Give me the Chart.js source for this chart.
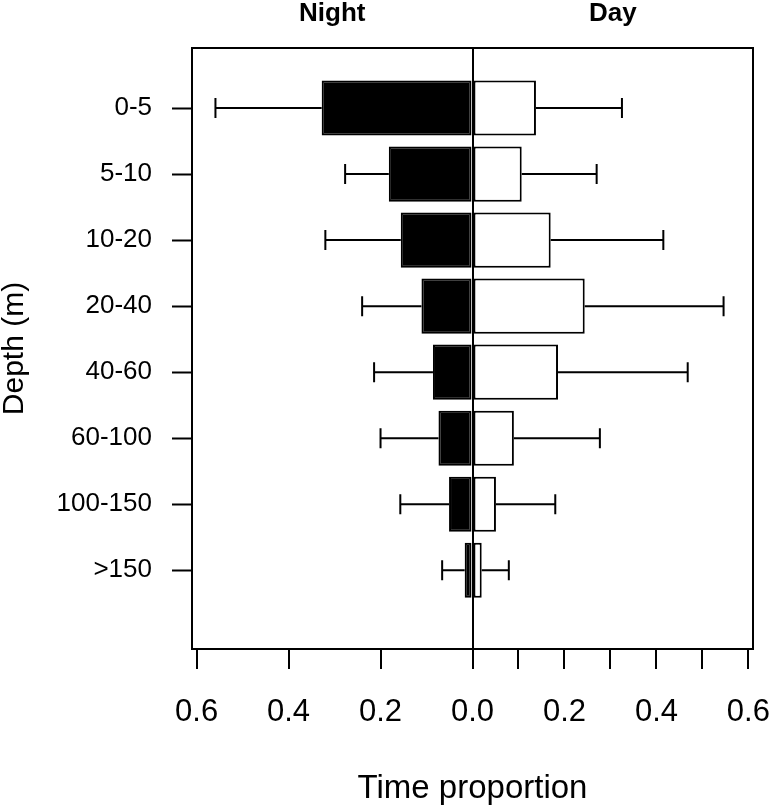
<!DOCTYPE html>
<html>
<head>
<meta charset="utf-8">
<script src="https://cdn.jsdelivr.net/npm/chart.js@4.4.1/dist/chart.umd.min.js"></script>
<style>
  html, body { margin: 0; padding: 0; background: #ffffff; }
  #wrap { width: 774px; height: 810px; position: relative; }
</style>
</head>
<body>
<div id="wrap"><canvas id="c"></canvas></div>
<script>
// ---- data ----
const categories = ['0-5', '5-10', '10-20', '20-40', '40-60', '60-100', '100-150', '>150'];
const nightMean  = [0.328, 0.182, 0.156, 0.111, 0.086, 0.074, 0.051, 0.017];
const nightUpper = [0.559, 0.277, 0.320, 0.240, 0.214, 0.200, 0.157, 0.066];
const dayMean    = [0.138, 0.107, 0.170, 0.244, 0.186, 0.090, 0.051, 0.020];
const dayUpper   = [0.325, 0.270, 0.415, 0.546, 0.468, 0.277, 0.180, 0.079];
const xTickValues = [-0.6, -0.4, -0.2, 0, 0.1, 0.2, 0.3, 0.4, 0.5, 0.6];
const panelTitles = ['Night', 'Day'];

const FONT = "'Liberation Sans', Arial, Helvetica, sans-serif";

const nightData = categories.map((c, i) => ({ x: -nightMean[i], y: i + 1 }));
const dayData   = categories.map((c, i) => ({ x: dayMean[i], y: i + 1 }));

const frameAndErrorBars = {
  id: 'frameAndErrorBars',
  afterDatasetsDraw(chart) {
    const { ctx, chartArea: a, scales: { x, y } } = chart;
    ctx.save();
    ctx.strokeStyle = '#000';
    ctx.lineWidth = 2;
    ctx.lineCap = 'butt';
    const cap = 10;
    const whisker = (from, to, row) => {
      const py = y.getPixelForValue(row);
      const p0 = x.getPixelForValue(from);
      const p1 = x.getPixelForValue(to);
      ctx.beginPath();
      ctx.moveTo(p0, py); ctx.lineTo(p1, py);
      ctx.moveTo(p1, py - cap); ctx.lineTo(p1, py + cap);
      ctx.stroke();
    };
    categories.forEach((c, i) => {
      whisker(-nightMean[i], -nightUpper[i], i + 1);
      whisker(dayMean[i], dayUpper[i], i + 1);
    });
    // plot frame
    ctx.strokeRect(a.left, a.top, a.right - a.left, a.bottom - a.top);
    // panel titles
    ctx.fillStyle = '#000';
    ctx.font = 'bold 26px ' + FONT;
    ctx.textAlign = 'center';
    ctx.textBaseline = 'alphabetic';
    const leftMid = (x.getPixelForValue(x.min) + x.getPixelForValue(0)) / 2;
    const rightMid = (x.getPixelForValue(0) + x.getPixelForValue(x.max)) / 2;
    ctx.fillText(panelTitles[0], leftMid, 21);
    ctx.fillText(panelTitles[1], rightMid, 21);
    ctx.restore();
  }
};

new Chart(document.getElementById('c'), {
  type: 'bar',
  data: {
    datasets: [
      {
        label: 'Night',
        data: nightData,
        backgroundColor: '#000000',
        borderColor: '#000000',
        borderWidth: 2,
        borderSkipped: false,
        grouped: false,
        categoryPercentage: 1,
        barPercentage: 0.835
      },
      {
        label: 'Day',
        data: dayData,
        backgroundColor: '#ffffff',
        borderColor: '#000000',
        borderWidth: 2,
        borderSkipped: false,
        grouped: false,
        categoryPercentage: 1,
        barPercentage: 0.835
      }
    ]
  },
  options: {
    indexAxis: 'y',
    responsive: true,
    maintainAspectRatio: false,
    animation: false,
    layout: { padding: { left: 0, right: 21, top: 48, bottom: 0 } },
    plugins: { legend: { display: false }, tooltip: { enabled: false } },
    scales: {
      x: {
        type: 'linear',
        position: 'bottom',
        min: -0.61,
        max: 0.61,
        offset: false,
        afterBuildTicks: (s) => { s.ticks = xTickValues.map(v => ({ value: v })); },
        afterFit: (s) => { s.height = 161; s.paddingLeft = 0; s.paddingRight = 0; },
        border: { display: false },
        grid: {
          offset: false,
          drawOnChartArea: true,
          drawTicks: true,
          tickLength: 20,
          lineWidth: 2,
          tickWidth: 2,
          tickColor: '#000',
          color: (ctx) => (ctx.tick && Math.abs(ctx.tick.value) < 1e-9) ? '#000' : 'rgba(0,0,0,0)'
        },
        ticks: {
          autoSkip: false,
          maxRotation: 0,
          padding: 25,
          color: '#000',
          font: { family: FONT, size: 31, lineHeight: 1.2 },
          callback: (v) => {
            const k = Math.round(Math.abs(v) * 10);
            return k % 2 === 0 ? (k / 10).toFixed(1) : '';
          }
        },
        title: {
          display: true,
          text: 'Time proportion',
          color: '#000',
          font: { family: FONT, size: 33, lineHeight: 1 },
          padding: { top: 0, bottom: 5 }
        }
      },
      y: {
        type: 'linear',
        reverse: true,
        min: 0.091,
        max: 9.192,
        offset: false,
        afterBuildTicks: (s) => { s.ticks = categories.map((c, i) => ({ value: i + 1 })); },
        afterFit: (s) => { s.width = 192; s.paddingTop = 0; s.paddingBottom = 0; },
        border: { display: false },
        grid: {
          offset: false,
          drawOnChartArea: false,
          drawTicks: true,
          tickLength: 20,
          tickWidth: 2,
          tickColor: '#000'
        },
        ticks: {
          autoSkip: false,
          padding: 20,
          color: '#000',
          font: { family: FONT, size: 26 },
          callback: (v) => categories[Math.round(v) - 1]
        },
        title: {
          display: true,
          text: 'Depth (m)',
          color: '#000',
          font: { family: FONT, size: 30, lineHeight: 1 },
          padding: { top: 0, bottom: 0 }
        }
      }
    }
  },
  plugins: [frameAndErrorBars]
});
</script>
</body>
</html>
